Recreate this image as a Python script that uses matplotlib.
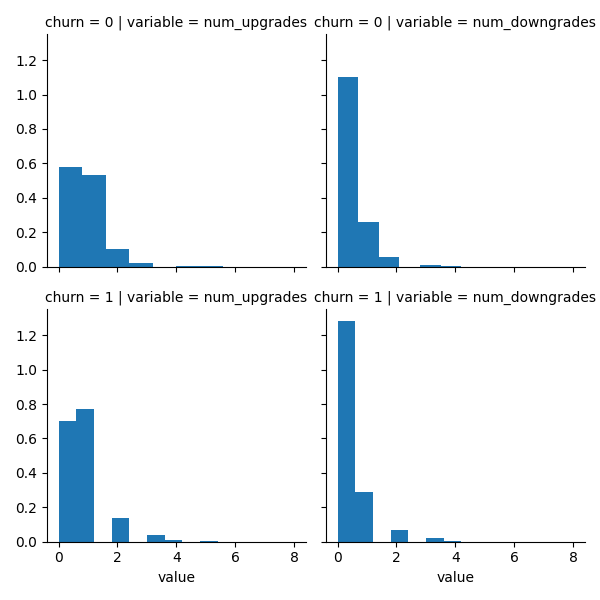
import numpy as np
import matplotlib.pyplot as plt

# histogram heights (density) per facet, with bin range and count
churn_vals = [0, 0, 1, 1]
variables = ["num_upgrades", "num_downgrades", "num_upgrades", "num_downgrades"]
bin_max = [8, 7, 6, 6]
heights = [
    [0.58, 0.53, 0.10, 0.02, 0.0, 0.005, 0.005, 0.0, 0.0, 0.0],
    [1.10, 0.26, 0.055, 0.0, 0.01, 0.005, 0.0, 0.0, 0.0, 0.0],
    [0.70, 0.77, 0.0, 0.14, 0.0, 0.04, 0.01, 0.0, 0.005, 0.0],
    [1.28, 0.29, 0.0, 0.07, 0.0, 0.02, 0.005, 0.0, 0.0, 0.0],
]

fig, axes = plt.subplots(2, 2, figsize=(6, 6), sharex=True, sharey=True)
for ax, c, var, mx, h in zip(axes.flat, churn_vals, variables, bin_max, heights):
    edges = np.linspace(0, mx, len(h) + 1)
    centers = (edges[:-1] + edges[1:]) / 2
    ax.hist(centers, bins=edges, weights=h, color="#1f77b4")
    ax.set_title(f"churn = {c} | variable = {var}", fontsize=10)
    ax.spines["top"].set_visible(False)
    ax.spines["right"].set_visible(False)

axes[0, 0].set_xlim(-0.4, 8.4)
axes[0, 0].set_ylim(0, 1.35)
axes[0, 0].set_xticks([0, 2, 4, 6, 8])
axes[0, 0].set_yticks([0.0, 0.2, 0.4, 0.6, 0.8, 1.0, 1.2])
for ax in axes[1]:
    ax.set_xlabel("value")

fig.tight_layout()
fig.savefig("out.png", dpi=100)
